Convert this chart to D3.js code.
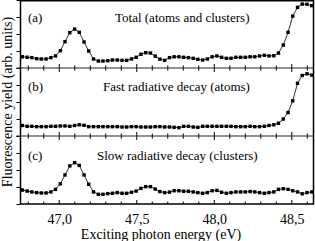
<!DOCTYPE html>
<html>
<head>
<meta charset="utf-8">
<script src="https://cdn.jsdelivr.net/npm/d3@7/dist/d3.min.js"></script>
<style>
  html, body { margin: 0; padding: 0; background: #fff; }
  svg { display: block; }
  text { font-family: "Liberation Serif", "Times New Roman", serif; fill: #000; }
</style>
</head>
<body>
<svg id="chart" width="315" height="241"></svg>
<script>
// ---- data ----
const energies = [46.762,46.793,46.823,46.854,46.884,46.915,46.946,46.976,47.007,47.037,
  47.068,47.099,47.129,47.160,47.190,47.221,47.252,47.282,47.313,47.343,
  47.374,47.405,47.435,47.466,47.496,47.527,47.558,47.588,47.619,47.649,
  47.680,47.711,47.741,47.772,47.802,47.833,47.864,47.894,47.925,47.955,
  47.986,48.017,48.047,48.078,48.108,48.139,48.170,48.200,48.231,48.261,
  48.292,48.323,48.353,48.384,48.414,48.445,48.476,48.506,48.537,48.567,
  48.598,48.629];
const totalYield = [0.66,0.63,0.61,0.55,0.53,0.53,0.61,0.71,1.02,1.55,
  2.08,2.29,2.10,1.53,1.00,0.53,0.41,0.41,0.43,0.47,
  0.47,0.45,0.45,0.53,0.63,0.81,0.90,0.88,0.70,0.52,
  0.45,0.61,0.66,0.66,0.63,0.61,0.57,0.51,0.47,0.53,
  0.66,0.71,0.63,0.57,0.57,0.63,0.63,0.63,0.66,0.66,
  0.71,0.75,0.71,0.72,0.88,1.35,2.10,3.05,3.57,3.76,
  3.75,3.67];
const fastYield = [0.62,0.57,0.57,0.55,0.55,0.55,0.57,0.57,0.59,0.59,
  0.57,0.62,0.66,0.63,0.55,0.55,0.55,0.55,0.55,0.55,
  0.55,0.53,0.53,0.55,0.55,0.53,0.53,0.53,0.55,0.55,
  0.53,0.53,0.51,0.49,0.57,0.57,0.53,0.51,0.57,0.57,
  0.57,0.57,0.57,0.57,0.57,0.55,0.55,0.55,0.57,0.55,
  0.55,0.57,0.62,0.66,0.75,1.00,1.38,2.07,3.10,3.56,
  3.66,3.58];
const slowYield = [0.82,0.76,0.71,0.67,0.65,0.65,0.71,0.86,1.19,1.71,
  2.24,2.43,2.27,1.71,1.16,0.71,0.57,0.57,0.61,0.63,
  0.67,0.63,0.63,0.69,0.76,0.92,1.02,1.02,0.88,0.73,
  0.67,0.70,0.78,0.78,0.75,0.75,0.71,0.67,0.63,0.67,
  0.78,0.80,0.69,0.63,0.67,0.71,0.71,0.71,0.73,0.71,
  0.67,0.63,0.67,0.71,0.86,0.90,0.86,0.78,0.71,0.60,
  0.67,0.71];
const panelLetters = ["(a)", "(b)", "(c)"];
const panelTitles = ["Total (atoms and clusters)", "Fast radiative decay (atoms)", "Slow radiative decay (clusters)"];
const xMajorTicks = [47.0, 47.5, 48.0, 48.5];
const xMinorTicks = [46.8,46.9,47.1,47.2,47.3,47.4,47.6,47.7,47.8,47.9,48.1,48.2,48.3,48.4,48.6];
const yTicks = [0, 1, 2, 3, 4];
const xTitle = "Exciting photon energy (eV)";
const yTitle = "Fluorescence yield (arb. units)";

// ---- layout ----
const left = 20.5, right = 313.5;
const panelTop = [0, 68, 136];
const panelH = 68;
const bottom = panelTop[2] + panelH;
const titleX = [115, 103, 97];
const titleDy = [22, 23, 24];

const svg = d3.select("#chart");
const x = d3.scaleLinear().domain([46.75, 48.64]).range([left, right]);
const series = [totalYield, fastYield, slowYield];

series.forEach((vals, p) => {
  const top = panelTop[p];
  const y = d3.scaleLinear().domain([0, 4]).range([top + panelH, top]);
  const g = svg.append("g");

  // left ticks (outward)
  const ax = g.append("g").attr("transform", `translate(${left},0)`)
    .call(d3.axisLeft(y).tickValues(yTicks).tickSize(4).tickFormat(""));
  ax.select(".domain").remove();
  ax.selectAll(".tick line").attr("stroke", "#000").attr("stroke-width", 1);

  // x ticks at the bottom of the panel (inward, up)
  const yb = top + panelH;
  g.selectAll(".maj").data(xMajorTicks).enter().append("line")
    .attr("x1", d => x(d)).attr("x2", d => x(d))
    .attr("y1", yb).attr("y2", yb - 4)
    .attr("stroke", "#000").attr("stroke-width", 1);
  g.selectAll(".min").data(xMinorTicks).enter().append("line")
    .attr("x1", d => x(d)).attr("x2", d => x(d))
    .attr("y1", yb).attr("y2", yb - 2.5)
    .attr("stroke", "#000").attr("stroke-width", 1);
  // x ticks at the top of lower panels (inward, down)
  if (p > 0) {
    g.selectAll(".majt").data(xMajorTicks).enter().append("line")
      .attr("x1", d => x(d)).attr("x2", d => x(d))
      .attr("y1", top).attr("y2", top + 4)
      .attr("stroke", "#000").attr("stroke-width", 1);
    g.selectAll(".mint").data(xMinorTicks).enter().append("line")
      .attr("x1", d => x(d)).attr("x2", d => x(d))
      .attr("y1", top).attr("y2", top + 2.7)
      .attr("stroke", "#000").attr("stroke-width", 1);
  }

  // line + square markers
  const pts = energies.map((e, i) => [e, vals[i]]);
  g.append("path").datum(pts)
    .attr("fill", "none").attr("stroke", "#000").attr("stroke-width", 0.8)
    .attr("d", d3.line().x(d => x(d[0])).y(d => y(d[1])));
  g.selectAll("rect.m").data(pts).enter().append("rect")
    .attr("x", d => x(d[0]) - 1.7).attr("y", d => y(d[1]) - 1.7)
    .attr("width", 3.4).attr("height", 3.4).attr("fill", "#000");

  // labels
  g.append("text").attr("x", 28).attr("y", top + titleDy[p])
    .attr("font-size", 13).text(panelLetters[p]);
  g.append("text").attr("x", titleX[p]).attr("y", top + titleDy[p])
    .attr("font-size", 13).text(panelTitles[p]);

  // separator
  if (p > 0) {
    svg.append("line").attr("x1", left - 4).attr("x2", right)
      .attr("y1", top).attr("y2", top)
      .attr("stroke", "#222").attr("stroke-width", 1);
  }
});

// frame
svg.append("rect").attr("x", left).attr("y", 0.75)
  .attr("width", right - left).attr("height", bottom - 0.75)
  .attr("fill", "none").attr("stroke", "#000").attr("stroke-width", 1.5);

// x tick labels
const xa = svg.append("g").attr("transform", `translate(0,${bottom})`)
  .call(d3.axisBottom(x).tickValues(xMajorTicks).tickSize(0)
    .tickFormat(d => d.toFixed(1).replace(".", ",")));
xa.select(".domain").remove();
xa.selectAll("text").attr("font-size", 14)
  .attr("font-family", '"Liberation Serif", "Times New Roman", serif')
  .attr("dy", null).attr("y", 20);

// axis titles
svg.append("text").attr("x", 161).attr("y", 239)
  .attr("text-anchor", "middle").attr("font-size", 14).text(xTitle);
svg.append("text").attr("transform", `translate(12,${bottom / 2}) rotate(-90)`)
  .attr("text-anchor", "middle").attr("font-size", 14).text(yTitle);
</script>
</body>
</html>
